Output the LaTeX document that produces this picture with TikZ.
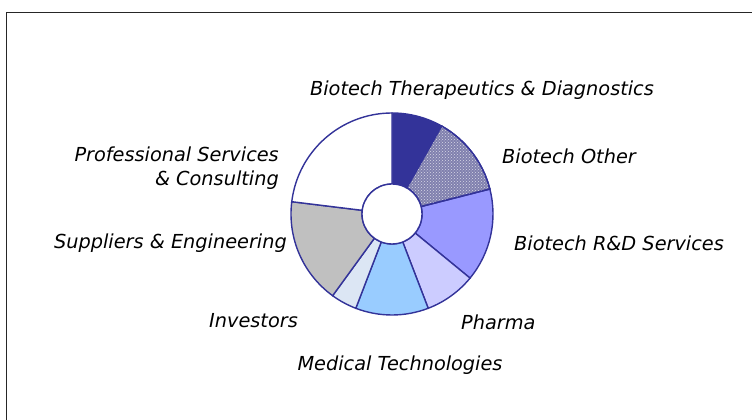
\documentclass[tikz,border=0pt]{standalone}
\usepackage{fontspec}
\setmainfont{DejaVu Sans}
\usepackage{tikz}
\usetikzlibrary{patterns}

\definecolor{piedark}{HTML}{333399}
\definecolor{piehatch}{RGB}{128,128,174}
\definecolor{piernd}{HTML}{9999FF}
\definecolor{piepharma}{HTML}{CCCCFF}
\definecolor{piemed}{HTML}{99CCFF}
\definecolor{pieinv}{HTML}{DCE6F4}
\definecolor{piesupp}{HTML}{C0C0C0}

\begin{document}
\begin{tikzpicture}[x=1pt, y=1pt,
    lbl/.style={font=\itshape\fontsize{19.3}{24}\selectfont, inner sep=0pt},
    seg/.style={draw=piedark, line width=1.4pt}]
    \useasboundingbox (0,0) rectangle (752,420);
    % frame
    \draw[line width=1.3pt, black!85] (6.5,0) -- (6.5,407.5) -- (752,407.5);
    % ring
    \begin{scope}[shift={(392,206)}]
        \foreach \a/\b/\c in {90/60.6/piedark, 60.6/14.3/piehatch, 14.3/-39.4/piernd,
                              -39.4/-69/piepharma, -69/-111/piemed, -111/-126/pieinv,
                              -126/-187/piesupp, -187/-270/white} {
            \filldraw[seg, fill=\c] (\a:101) arc[start angle=\a, end angle=\b, radius=101]
                -- (\b:30) arc[start angle=\b, end angle=\a, radius=30] -- cycle;
        }
        \fill[pattern=crosshatch dots, pattern color=piehatch!30!white]
            (60.6:101) arc[start angle=60.6, end angle=14.3, radius=101]
            -- (14.3:30) arc[start angle=14.3, end angle=60.6, radius=30] -- cycle;
        \draw[seg] (60.6:101) arc[start angle=60.6, end angle=14.3, radius=101]
            -- (14.3:30) arc[start angle=14.3, end angle=60.6, radius=30] -- cycle;
        \filldraw[seg, fill=white] (0,0) circle (30);
    \end{scope}
    % labels
    \node[lbl] (therap) at (482,330) {Biotech Therapeutics \& Diagnostics};
    \node[lbl, anchor=west] (other) at (502,264) {Biotech Other};
    \node[lbl, anchor=west] (rnd) at (514,177) {Biotech R\&D Services};
    \node[lbl, anchor=west] (pharma) at (461,98) {Pharma};
    \node[lbl] (medtech) at (400,55) {Medical Technologies};
    \node[lbl, anchor=east] (investors) at (298,99) {Investors};
    \node[lbl, anchor=east] (suppliers) at (287,177) {Suppliers \& Engineering};
    \node[lbl, anchor=east, align=right] (prof) at (279,252) {Professional Services\\\& Consulting};
\end{tikzpicture}
\end{document}
